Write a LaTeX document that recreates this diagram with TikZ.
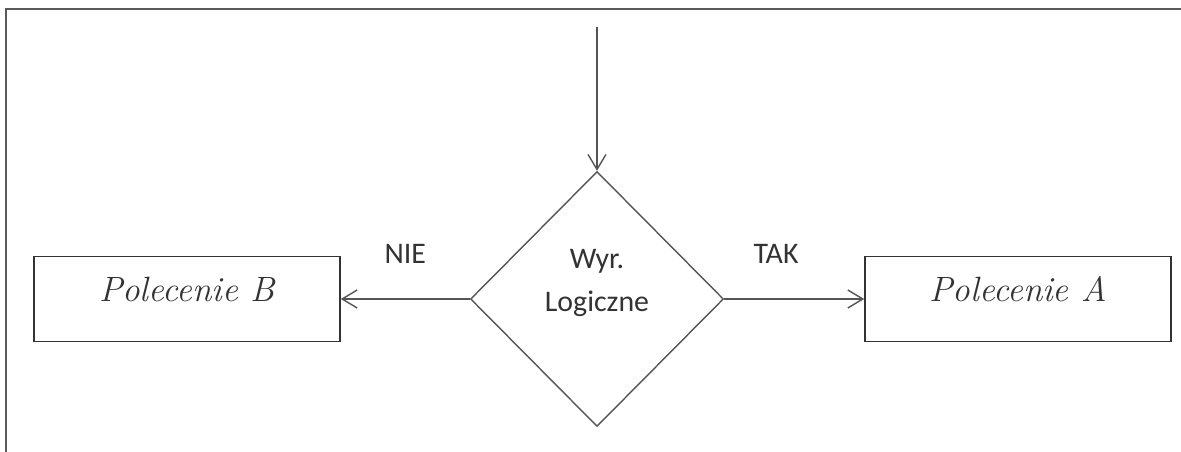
\documentclass[tikz,border=0pt]{standalone}
\usepackage{fontspec}
\newfontfamily\labelfont{Carlito}
\usetikzlibrary{shapes.geometric, positioning, arrows.meta}
\definecolor{linegray}{HTML}{555555}
\definecolor{framegray}{HTML}{5A5A5A}
\definecolor{textgray}{HTML}{333333}

\begin{document}
\begin{tikzpicture}[node distance=2.6cm]

% Define styles
\tikzstyle{decision} = [diamond, draw=linegray, line width=0.8pt, minimum width=5.06cm, minimum height=5.1cm, inner sep=0pt]
\tikzstyle{command} = [rectangle, draw=textgray, line width=1pt, minimum width=6.12cm, minimum height=1.7cm, text depth=0.4cm, text=textgray, font=\itshape\fontsize{20}{24}\selectfont]
\tikzstyle{arrow} = [line width=0.8pt, draw=linegray, -{Straight Barb[length=3mm,width=3.6mm]}]
\tikzstyle{answer} = [text=textgray, font=\labelfont\fontsize{17}{20}\selectfont, anchor=center, yshift=0.9cm]

% Page frame (top and left edge only)
\useasboundingbox (0,0) rectangle (23.62,-9.04);
\draw[framegray, line width=1.1pt] (0.12,-9.1) -- (0.12,-0.18) -- (23.7,-0.18);

% Condition
\node [decision, label={[text=textgray, font=\labelfont\fontsize{17}{25}\selectfont, align=center, yshift=0.32cm]center:Wyr.\\Logiczne}] (cond) at (11.94,-5.98) {};
\coordinate [above=2.88cm of cond.north] (start);

% Branches
\node [command, left=2.58cm of cond] (cmdB) {Polecenie\ B};
\node [command, right=2.8cm of cond] (cmdA) {Polecenie\ A};

% Arrows
\draw [arrow] (start) -- (cond.north);
\draw [arrow] (cond.west) -- node [answer, midway] {NIE} (cmdB);
\draw [arrow] (cond.east) -- node [answer, pos=0.37] {TAK} (cmdA);

\end{tikzpicture}
\end{document}
